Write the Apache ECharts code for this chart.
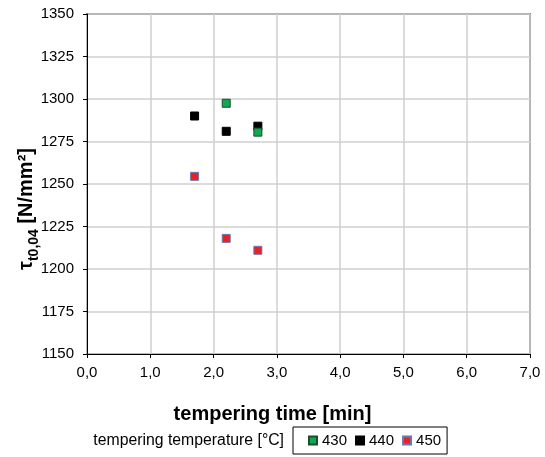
<!DOCTYPE html>
<html><head><meta charset="utf-8">
<script src="https://cdn.jsdelivr.net/npm/echarts@6/dist/echarts.min.js"></script>
<style>html,body{margin:0;padding:0;background:#fff}#c{width:545px;height:457px}</style>
</head><body><div id="c"></div>
<script>
const xTicks = [0,1,2,3,4,5,6,7];
const yTicks = [1150,1175,1200,1225,1250,1275,1300,1325,1350];
const seriesNames = ['430','440','450'];
const t430 = [2.2, 2.7];
const v430 = [1297.5, 1280.5];
const t440 = [1.7, 2.2, 2.7];
const v440 = [1290, 1281, 1284];
const t450 = [1.7, 2.2, 2.7];
const v450 = [1254.5, 1218, 1211];

const pairs = (xs, ys) => xs.map((x,i)=>[x, ys[i]]);
const font = 'Liberation Sans, Arial, sans-serif';
const chart = echarts.init(document.getElementById('c'), null, {renderer:'canvas'});
chart.setOption({
  animation:false,
  backgroundColor:'#fff',
  grid:{left:87, right:15, top:14, bottom:103, show:true, borderColor:'#404040', borderWidth:1.5, backgroundColor:'transparent'},
  xAxis:{type:'value', min:xTicks[0], max:xTicks[xTicks.length-1], interval:1,
    axisLine:{onZero:false, lineStyle:{color:'#000', width:1}},
    axisTick:{show:true, inside:false, length:4, lineStyle:{color:'#000'}},
    axisLabel:{color:'#000', fontFamily:font, fontSize:15, margin:11, formatter:v=>v.toFixed(1).replace('.',',')},
    splitLine:{show:true, lineStyle:{color:'#cfcfcf', width:1.5}}},
  yAxis:{type:'value', min:yTicks[0], max:yTicks[yTicks.length-1], interval:25,
    axisLine:{onZero:false, lineStyle:{color:'#000', width:1}},
    axisTick:{show:true, inside:false, length:4, lineStyle:{color:'#000'}},
    axisLabel:{color:'#000', fontFamily:font, fontSize:15, margin:13, formatter:v=>String(v)},
    splitLine:{show:true, lineStyle:{color:'#cfcfcf', width:1.5}}},
  legend:{left:293, top:427, itemWidth:8, itemHeight:8, itemGap:8, padding:[6,6,6,15],
    borderColor:'#000', borderWidth:1, icon:'rect',
    textStyle:{fontFamily:font, fontSize:15, color:'#000'},
    data:seriesNames},
  graphic:[
    {type:'text', left:'center', top:404, style:{text:'tempering time [min]', font:'bold 20px '+font, fill:'#000'}},
    {type:'text', right:261, top:433, style:{text:'tempering temperature [°C]', font:'15.8px '+font, fill:'#000'}},
    {type:'text', x:24, y:209, rotation:Math.PI/2,
      style:{text:'{a|τ}{b|t0,04}{a| [N/mm²]}', align:'center', verticalAlign:'middle',
        rich:{
          a:{fontFamily:font, fontSize:20, fontWeight:'bold', fill:'#000', verticalAlign:'bottom', lineHeight:24},
          b:{fontFamily:font, fontSize:14, fontWeight:'bold', fill:'#000', verticalAlign:'bottom', lineHeight:14, padding:[0,0,-5,0]}
        }}}
  ],
  series:[
    {name:seriesNames[0], type:'scatter', symbol:'rect', symbolSize:8, data:pairs(t430,v430), z:3,
      itemStyle:{color:'#10a850', borderColor:'#1d4d2d', borderWidth:1, opacity:1}},
    {name:seriesNames[1], type:'scatter', symbol:'rect', symbolSize:8, data:pairs(t440,v440), z:2,
      itemStyle:{color:'#000', borderColor:'#000', borderWidth:1, opacity:1}},
    {name:seriesNames[2], type:'scatter', symbol:'rect', symbolSize:8, data:pairs(t450,v450), z:4,
      itemStyle:{color:'#e8202a', borderColor:'#6a7aa8', borderWidth:1, opacity:1}}
  ]
});
</script></body></html>
